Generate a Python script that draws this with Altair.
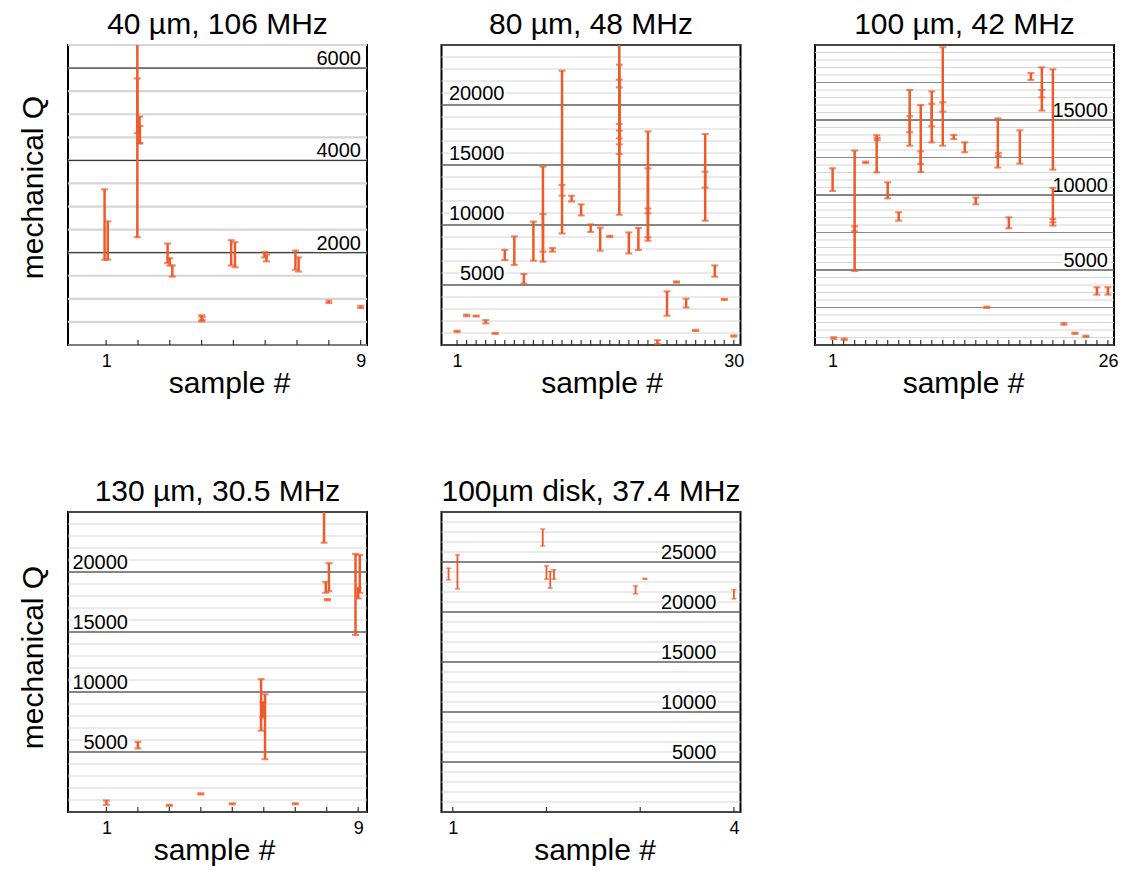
import altair as alt
import pandas as pd

ORANGE = "#F05A28"
FONT = "Liberation Sans"

# ---- 40 µm, 106 MHz -------------------------------------------------------
p1_sample = [1, 1, 2, 2, 2, 2, 3, 3, 3, 4, 4, 5, 5, 6, 6, 7, 7, 8, 9]
p1_dx = [-0.05, 0.05, -0.02, -0.02, 0.05, 0.06, -0.07, 0.0, 0.08, 0.0, 0.02,
         -0.07, 0.05, -0.02, 0.04, -0.05, 0.05, 0.0, 0.0]
p1_lo = [1848, 1848, 2337, 4590, 4370, 4370, 1774, 1723, 1482, 512, 540,
         1723, 1686, 1898, 1811, 1630, 1592, 910, 800]
p1_hi = [3373, 2680, 7000, 5775, 4950, 4746, 2198, 1883, 1723, 643, 610,
         2271, 2227, 2015, 1960, 2045, 1898, 960, 850]

# ---- 80 µm, 48 MHz --------------------------------------------------------
p2_sample = [1, 2, 3, 4, 5, 6, 7, 8, 9, 10, 10, 11, 12, 12, 13, 14, 15, 16, 17,
             18, 18, 18, 18, 18, 19, 20, 21, 21, 21, 22, 23, 24, 25, 26, 27, 27,
             28, 29, 30]
p2_dx = [0.0] * len(p2_sample)
p2_lo = [1080, 2400, 2380, 1800, 930, 7080, 6670, 5130, 7030, 6940, 7780, 7780,
         9300, 12440, 11970, 10800, 9420, 7860, 9000, 10860, 15920, 16720, 17220,
         17860, 7630, 7920, 8690, 8970, 10970, 80, 2440, 5200, 3130, 1170, 10360,
         13110, 5690, 3750, 700]
p2_hi = [1190, 2530, 2450, 2080, 1000, 7920, 9050, 5920, 10280, 14860, 10920, 8080,
         22860, 13330, 12440, 11720, 10050, 9780, 9100, 26000, 23360, 22110, 21470,
         18420, 9380, 9750, 17800, 14720, 11380, 400, 4470, 5300, 3860, 1260, 17580,
         14440, 6630, 3850, 800]

# ---- 100 µm, 42 MHz -------------------------------------------------------
p3_sample = [1, 1, 2, 3, 3, 4, 5, 5, 6, 7, 8, 8, 9, 9, 10, 10, 11, 11, 12, 13, 14,
             15, 16, 16, 17, 18, 19, 20, 20, 21, 21, 21, 22, 23, 24, 25, 26]
p3_dx = [0.0, 0.1, 0.05, 0.0, 0.0, 0.0, 0.0, 0.05, 0.0, 0.0, 0.0, 0.0, 0.0, 0.0,
         0.0, 0.0, 0.0, 0.0, 0.0, 0.0, 0.0, 0.0, 0.0, 0.05, 0.0, 0.0, 0.0, 0.0,
         0.0, 0.0, 0.0, 0.0, 0.0, 0.0, 0.0, 0.0, 0.0]
p3_lo = [10270, 400, 330, 4930, 7580, 12130, 11510, 13650, 9780, 8290, 13290, 14180,
         11530, 12070, 13510, 14580, 13290, 15560, 13730, 12850, 9380, 2470, 11830,
         12600, 7780, 12090, 17670, 15630, 16510, 11690, 7960, 8180, 1350, 740, 540,
         3360, 3360]
p3_hi = [11780, 520, 430, 12960, 7910, 12230, 13980, 13800, 10850, 8850, 17000, 15250,
         16000, 12910, 16910, 16090, 19850, 16180, 14000, 13510, 9830, 2560, 15110,
         12800, 8510, 14310, 18130, 18510, 17000, 18380, 10470, 8400, 1450, 820, 620,
         3850, 3850]

# ---- 130 µm, 30.5 MHz -----------------------------------------------------
p4_sample = [1, 2, 3, 4, 5, 6, 6, 6, 7, 8, 8, 8, 8, 9, 9, 9]
p4_dx = [0.0, 0.0, 0.0, 0.0, 0.0, -0.085, 0.04, -0.03, 0.0, -0.085, -0.03, 0.07,
         0.02, -0.085, 0.05, 0.0]
p4_lo = [600, 5300, 500, 1460, 640, 6780, 4400, 7880, 640, 22440, 18270, 18400,
         17640, 14750, 18270, 17800]
p4_hi = [960, 5850, 600, 1560, 730, 11070, 9810, 9170, 730, 26000, 19170, 20740,
         17740, 21510, 21420, 18680]

# ---- 100µm disk, 37.4 MHz -------------------------------------------------
p5_sample = [1, 1, 2, 2, 2, 2, 3, 3, 4]
p5_dx = [-0.045, 0.05, -0.04, 0.0, 0.04, 0.08, -0.05, 0.05, 0.0]
p5_lo = [23215, 22315, 26610, 23285, 22385, 23285, 21817, 23270, 21320]
p5_hi = [24380, 25710, 28300, 24610, 24050, 24220, 22615, 23360, 22220]

W, H = 299, 300


def panel(title, sample, dx, lo, hi, n, xdom, ymax, minor_step, major_step,
          label_vals, label_x, label_dy, xtitle_x, ytitle_y=None, mid_step=None,
          cap=7, sw=2.5, minor_w=1.2):
    df = pd.DataFrame({"s": sample, "dx": dx, "lo": lo, "hi": hi})
    df["x"] = df["s"] + df["dx"]
    # bars that run past the top of the frame stop at the frame, without a cap
    df["top"] = df["hi"].clip(upper=ymax)
    capped = df[df["hi"] <= ymax]

    minor = pd.DataFrame({"v": list(range(0, ymax + 1, minor_step))})
    major = pd.DataFrame({"v": list(range(0, ymax + 1, major_step))})
    ticks = pd.DataFrame({"s": list(range(1, n + 1))})
    labels = pd.DataFrame({"v": label_vals})

    xs = alt.Scale(domain=xdom, nice=False, zero=False)
    ys = alt.Scale(domain=[0, ymax], nice=False, zero=False)

    yaxis_kw = dict(grid=False, ticks=False, tickSize=0, domain=False, labels=False)
    if ytitle_y is not None:
        yaxis_kw.update(titleX=-26, titleY=ytitle_y, titleAngle=270,
                        titleBaseline="alphabetic", titleAlign="center",
                        titleFontSize=30, titleFontWeight="normal",
                        titleColor="black")
        ytitle = "mechanical Q"
    else:
        ytitle = None
    yaxis = alt.Axis(**yaxis_kw)

    xaxis = alt.Axis(values=[1, n], grid=False, ticks=False, tickSize=0,
                     domain=False, labelFontSize=18, labelPadding=7,
                     labelFlush=False, labelColor="black", format="d",
                     titleFontSize=30, titleFontWeight="normal", titleX=xtitle_x,
                     titleY=47, titleBaseline="alphabetic", titleAlign="center",
                     titleColor="black")

    def Y(f):
        return alt.Y(f"{f}:Q", scale=ys, axis=yaxis, title=ytitle)

    def X(f):
        return alt.X(f"{f}:Q", scale=xs, axis=xaxis, title="sample #")

    layers = [
        alt.Chart(minor).mark_rule(color="#d6d6d6", strokeWidth=minor_w).encode(y=Y("v")),
    ]
    if mid_step is not None:
        mid = pd.DataFrame({"v": list(range(mid_step, ymax + 1, 2 * mid_step))})
        layers.append(alt.Chart(mid).mark_rule(color="#8a8a8a", strokeWidth=1).encode(y=Y("v")))
    layers.append(alt.Chart(major).mark_rule(color="#222222", strokeWidth=1).encode(y=Y("v")))

    # value labels sit inside the frame, on a white halo that masks the fine grid
    text_kw = dict(align="right", baseline="alphabetic", dy=label_dy, fontSize=20)
    layers.append(alt.Chart(labels).mark_text(color="white", stroke="white",
                                              strokeWidth=4, **text_kw).encode(
        y=Y("v"), x=alt.value(label_x), text=alt.Text("v:Q", format="d")))

    layers.append(alt.Chart(ticks).mark_rule(color="#333333", strokeWidth=1.2).encode(
        x=X("s"), y=alt.value(H - 5), y2=alt.value(H)))
    layers.append(alt.Chart(df).mark_rule(color=ORANGE, strokeWidth=sw).encode(
        x=X("x"), y=Y("lo"), y2=alt.Y2("top")))
    layers.append(alt.Chart(df).mark_tick(color=ORANGE, orient="horizontal", size=cap,
                                          thickness=sw * 0.85).encode(x=X("x"), y=Y("lo")))
    layers.append(alt.Chart(capped).mark_tick(color=ORANGE, orient="horizontal", size=cap,
                                              thickness=sw * 0.85).encode(x=X("x"), y=Y("hi")))
    layers.append(alt.Chart(labels).mark_text(color="black", **text_kw).encode(
        y=Y("v"), x=alt.value(label_x), text=alt.Text("v:Q", format="d")))

    return alt.layer(*layers).properties(
        width=W, height=H,
        title=alt.TitleParams(title, fontSize=30, fontWeight="normal", color="black",
                              anchor="middle", baseline="alphabetic", offset=-20),
    )


c1 = panel("40 µm, 106 MHz", p1_sample, p1_dx, p1_lo, p1_hi, 9, [-0.2, 9.2], 6500,
           500, 2000, [2000, 4000, 6000], 293, -3, 161, ytitle_y=142, minor_w=2.2)
c2 = panel("80 µm, 48 MHz", p2_sample, p2_dx, p2_lo, p2_hi, 30, [-0.63, 30.7], 25000,
           1000, 5000, [5000, 10000, 15000, 20000], 63, -5, 160)
c3 = panel("100 µm, 42 MHz", p3_sample, p3_dx, p3_lo, p3_hi, 26, [-0.6, 26.55], 20000,
           500, 5000, [5000, 10000, 15000], 293, -3, 148, mid_step=2500)
c4 = panel("130 µm, 30.5 MHz", p4_sample, p4_dx, p4_lo, p4_hi, 9, [-0.22, 9.28], 25000,
           1000, 5000, [5000, 10000, 15000, 20000], 60, -3, 146, ytitle_y=145)
c5 = panel("100µm disk, 37.4 MHz", p5_sample, p5_dx, p5_lo, p5_hi, 4, [0.88, 4.07], 30000,
           1000, 5000, [5000, 10000, 15000, 20000, 25000], 275, -3, 153, cap=5, sw=1.8)

chart = alt.concat(c1, c2, c3, c4, c5, columns=3,
                   spacing={"row": 167, "column": 74.5}, bounds="flush").properties(
    padding={"left": 16, "top": 8, "right": 5, "bottom": 5}
).configure(font=FONT).configure_view(stroke="black", strokeWidth=2)

chart.save("out.html", embed_options={"renderer": "svg", "actions": False})
